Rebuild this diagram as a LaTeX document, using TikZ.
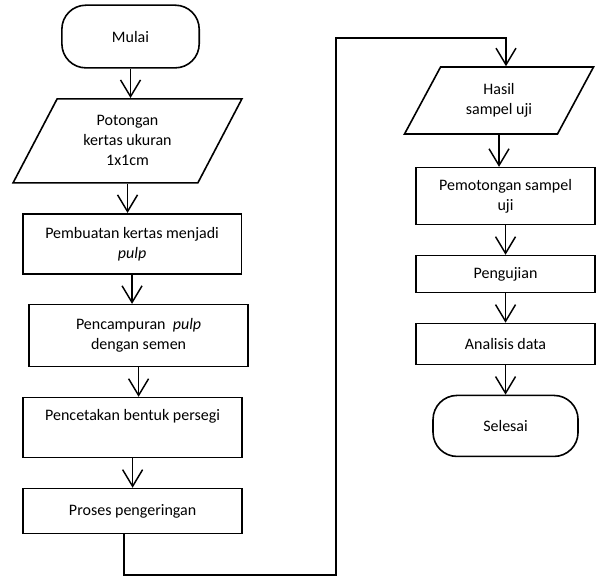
\documentclass[tikz,border=0pt]{standalone}
\usepackage{fontspec}
\setmainfont{Carlito}
\usetikzlibrary{positioning,shapes.geometric,arrows.meta}

\tikzstyle{termNode} = [rectangle, rounded corners=18pt, minimum width=103pt, minimum height=47pt, text centered, draw=black, line width=1.2pt]
\tikzstyle{ioNode} = [trapezium, trapezium stretches=true, text centered, align=center, draw=black, line width=1.2pt, inner sep=1pt]
\tikzstyle{procNode} = [rectangle, minimum width=164pt, minimum height=45pt, text centered, align=center, draw=black, line width=1.2pt]
\tikzstyle{arrow} = [line width=1.1pt,-{Straight Barb[length=12.5pt,width=15pt]}]

\begin{document}
\begin{tikzpicture}[font=\fontsize{12}{15}\selectfont, node distance=22pt]
    \fill[white] (0,0) rectangle (447pt,-432.75pt);
    \useasboundingbox (0,0) rectangle (447pt,-432.75pt);

    % kolom kiri
    \node (mulai)[termNode] at (97.9pt,-27.4pt) {Mulai};
    \node (potongan)[ioNode, below=of mulai, xshift=-2.25pt, trapezium left angle=61.8, trapezium right angle=118.2, minimum width=171.75pt, minimum height=63pt] {Potongan\\kertas ukuran\\1x1cm};
    \node (pembuatan)[procNode, below=of potongan, xshift=3.4pt] {Pembuatan kertas menjadi\\\textit{pulp}};
    \node (pencampuran)[procNode, below=of pembuatan, xshift=4.9pt, minimum height=46.5pt] {Pencampuran \ \textit{pulp}\\dengan semen};
    \node (pencetakan)[procNode, below=of pencampuran, xshift=-4.5pt] {Pencetakan bentuk persegi\\\strut};
    \node (proses)[procNode, below=of pencetakan, minimum height=33.75pt] {Proses pengeringan};

    % kolom kanan
    \node (hasil)[ioNode, trapezium left angle=59.8, trapezium right angle=120.2, minimum width=142.5pt, minimum height=50.25pt] at (374.25pt,-75.4pt) {Hasil\\sampel uji};
    \node (pemotongan)[procNode, below=24pt of hasil, xshift=4.9pt, minimum width=134.25pt, minimum height=42.75pt] {Pemotongan sampel\\uji};
    \node (pengujian)[procNode, below=of pemotongan, minimum width=134.25pt, minimum height=27.75pt] {Pengujian};
    \node (analisis)[procNode, below=of pengujian, minimum width=134.25pt, minimum height=30.75pt] {Analisis data};
    \node (selesai)[termNode, below=of analisis, minimum width=108.75pt, minimum height=45.75pt] {Selesai};

    \coordinate (belokBawah) at (252pt,-431.25pt);
    \coordinate (belokAtas) at (379.5pt,-28.5pt);

    \draw [arrow] (mulai.south) -- (mulai.south |- potongan.north);
    \draw [arrow] (potongan.south) -- (potongan.south |- pembuatan.north);
    \draw [arrow] (pembuatan.south) -- (pembuatan.south |- pencampuran.north);
    \draw [arrow] (pencampuran.south) -- (pencampuran.south |- pencetakan.north);
    \draw [arrow] (pencetakan.south) -- (pencetakan.south |- proses.north);
    \draw [arrow] ([xshift=-6.4pt]proses.south) |- (belokBawah) |- (belokAtas) -- (belokAtas |- hasil.north);
    \draw [arrow] (hasil.south) -- (hasil.south |- pemotongan.north);
    \draw [arrow] (pemotongan.south) -- (pemotongan.south |- pengujian.north);
    \draw [arrow] (pengujian.south) -- (pengujian.south |- analisis.north);
    \draw [arrow] (analisis.south) -- (analisis.south |- selesai.north);

\end{tikzpicture}
\end{document}
